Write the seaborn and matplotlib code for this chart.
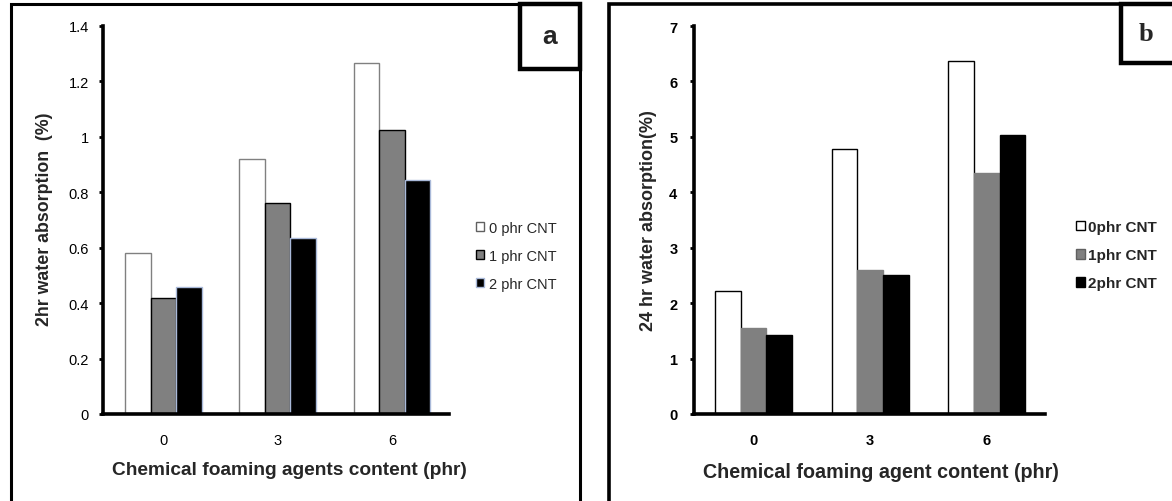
import matplotlib
matplotlib.use("Agg")
import matplotlib.pyplot as plt
import seaborn as sns
import pandas as pd
from matplotlib.patches import Patch, Rectangle

# ---------------- data ----------------
foaming_content = ["0", "3", "6"]
cnt_levels_a = ["0 phr CNT", "1 phr CNT", "2 phr CNT"]
cnt_levels_b = ["0phr CNT", "1phr CNT", "2phr CNT"]
absorption_2hr_0cnt = [0.58, 0.92, 1.265]
absorption_2hr_1cnt = [0.42, 0.76, 1.025]
absorption_2hr_2cnt = [0.46, 0.635, 0.845]
absorption_24hr_0cnt = [2.22, 4.78, 6.37]
absorption_24hr_1cnt = [1.55, 2.60, 4.35]
absorption_24hr_2cnt = [1.43, 2.50, 5.03]
yticks_a = [0, 0.2, 0.4, 0.6, 0.8, 1.0, 1.2, 1.4]
yticklabels_a = ["0", "0.2", "0.4", "0.6", "0.8", "1", "1.2", "1.4"]
yticks_b = [0, 1, 2, 3, 4, 5, 6, 7]

def long_df(levels, series):
    rows = []
    for lvl, vals in zip(levels, series):
        for c, v in zip(foaming_content, vals):
            rows.append({"content": c, "cnt": lvl, "value": v})
    return pd.DataFrame(rows)

df_a = long_df(cnt_levels_a, [absorption_2hr_0cnt, absorption_2hr_1cnt, absorption_2hr_2cnt])
df_b = long_df(cnt_levels_b, [absorption_24hr_0cnt, absorption_24hr_1cnt, absorption_24hr_2cnt])

sns.set_theme(style="white")
plt.rcParams["font.family"] = ["Liberation Sans", "DejaVu Sans"]

W, H = 1172, 502
fig = plt.figure(figsize=(W / 100, H / 100), dpi=100)
fig.patch.set_facecolor("white")

def fx(px):
    return px / W

def fy(py):
    return 1 - py / H

fills = ["#ffffff", "#808080", "#000000"]

# ---------------- panel a ----------------
ax_a = fig.add_axes([fx(103), fy(415), fx(449) - fx(103), fy(27) - fy(415)])
sns.barplot(data=df_a, x="content", y="value", hue="cnt", palette=fills,
            width=0.67, ax=ax_a, legend=False, linewidth=1.0, saturation=1)
edges_a = ["#808080", "#000000", "#a9b9d9"]
for cont, ec in zip(ax_a.containers, edges_a):
    for bar in cont:
        bar.set_edgecolor(ec)
ax_a.set_ylim(0, 1.4)
ax_a.set_xlim(-0.53, 2.50)
ax_a.set_yticks(yticks_a)
ax_a.set_yticklabels(yticklabels_a)
ax_a.set_xlabel("Chemical foaming agents content (phr)", fontsize=13.8, fontweight="bold")
ax_a.set_ylabel("2hr water absorption  (%)", fontsize=12.8, fontweight="bold")
ax_a.xaxis.set_label_coords(0.54, -0.12)
ax_a.yaxis.set_label_coords(-0.145, 0.505)
for s in ["top", "right"]:
    ax_a.spines[s].set_visible(False)
for s in ["left", "bottom"]:
    ax_a.spines[s].set_linewidth(2.6)
    ax_a.spines[s].set_color("black")
ax_a.tick_params(axis="y", length=3, width=2, direction="out", left=True, pad=7, labelsize=10.5, colors="black")
ax_a.tick_params(axis="x", length=0, pad=14, labelsize=10.5, colors="black")
ax_a.set_facecolor("white")

handles_a = [Patch(facecolor=f, edgecolor=e, linewidth=1.0) for f, e in
             zip(fills, ["#606060", "#000000", "#a9b9d9"])]
fig.legend(handles_a, cnt_levels_a, loc="upper left",
           bbox_to_anchor=(fx(476), fy(222)), frameon=False, fontsize=10.5,
           handlelength=0.55, handleheight=0.6, handletextpad=0.35,
           labelspacing=0.95, borderpad=0, borderaxespad=0)

# ---------------- panel b ----------------
ax_b = fig.add_axes([fx(694), fy(415), fx(1045) - fx(694), fy(27) - fy(415)])
sns.barplot(data=df_b, x="content", y="value", hue="cnt", palette=fills,
            width=0.66, ax=ax_b, legend=False, linewidth=1.0, saturation=1)
edges_b = ["#000000", "#808080", "#000000"]
for cont, ec in zip(ax_b.containers, edges_b):
    for bar in cont:
        bar.set_edgecolor(ec)
ax_b.set_ylim(0, 7)
ax_b.set_xlim(-0.51, 2.50)
ax_b.set_yticks(yticks_b)
ax_b.set_xlabel("Chemical foaming agent content (phr)", fontsize=14.2, fontweight="bold")
ax_b.set_ylabel("24 hr water absorption(%)", fontsize=13, fontweight="bold")
ax_b.xaxis.set_label_coords(0.533, -0.125)
ax_b.yaxis.set_label_coords(-0.105, 0.5)
for s in ["top", "right"]:
    ax_b.spines[s].set_visible(False)
for s in ["left", "bottom"]:
    ax_b.spines[s].set_linewidth(2.6)
    ax_b.spines[s].set_color("black")
ax_b.tick_params(axis="y", length=3, width=2, direction="out", left=True, pad=9, labelsize=10.5, colors="black")
ax_b.tick_params(axis="x", length=0, pad=14, labelsize=10.5, colors="black")
for lab in ax_b.get_xticklabels() + ax_b.get_yticklabels():
    lab.set_fontweight("bold")
ax_b.set_facecolor("white")

handles_b = [Patch(facecolor=f, edgecolor=e, linewidth=1.0) for f, e in
             zip(fills, ["#000000", "#606060", "#000000"])]
fig.legend(handles_b, cnt_levels_b, loc="upper left",
           bbox_to_anchor=(fx(1076), fy(221)), frameon=False,
           prop={"size": 11, "weight": "bold"},
           handlelength=0.6, handleheight=0.6, handletextpad=0.2,
           labelspacing=0.93, borderpad=0, borderaxespad=0)

# ---------------- frames & panel tags ----------------
def frame(x0, y0, x1, y1, lw):
    fig.add_artist(Rectangle((fx(x0), fy(y1)), fx(x1) - fx(x0), fy(y0) - fy(y1),
                             transform=fig.transFigure, fill=False,
                             edgecolor="black", linewidth=lw, clip_on=False))

frame(11, 5, 580, 520, 2.2)
frame(609, 5, 1190, 520, 2.6)

def tagbox(x0, y0, x1, y1, label, family, cx):
    fig.add_artist(Rectangle((fx(x0), fy(y1)), fx(x1) - fx(x0), fy(y0) - fy(y1),
                             transform=fig.transFigure, facecolor="white",
                             edgecolor="black", linewidth=3.2, clip_on=False))
    fig.text(fx(cx), fy((y0 + y1) / 2), label, ha="center", va="center",
             fontsize=19, fontweight="bold", family=family)

tagbox(520, 5, 580, 70, "a", ["Liberation Sans", "DejaVu Sans"], 550)
tagbox(1121, 5, 1200, 64, "b", ["Liberation Serif", "DejaVu Serif"], 1146)

fig.savefig("out.png", dpi=100, facecolor="white")
